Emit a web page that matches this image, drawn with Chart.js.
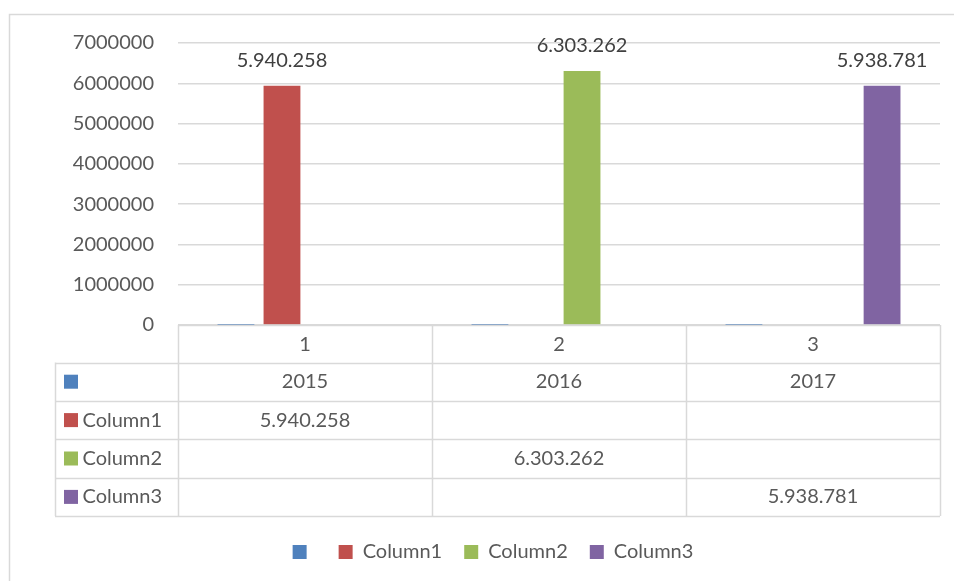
<!DOCTYPE html>
<html><head><meta charset="utf-8">
<script src="https://cdn.jsdelivr.net/npm/chart.js@4/dist/chart.umd.min.js"></script>
<style>html,body{margin:0;padding:0;background:#fff}canvas{display:block}</style>
</head><body>
<canvas id="c" width="954" height="581"></canvas>
<script>
// ---- data ----
const categories = ['1', '2', '3'];
const seriesNames = ['', 'Column1', 'Column2', 'Column3'];
const yearValues = [2015, 2016, 2017];
const column1 = [5940258, null, null];
const column2 = [null, 6303262, null];
const column3 = [null, null, 5938781];
const yMin = 0, yMax = 7000000, yStep = 1000000;

// ---- styles ----
const colors = ['#4F81BD', '#C0504D', '#9BBB59', '#8064A2'];
const FONT = 'Lato, "Open Sans", sans-serif';
const TEXT = '#595959';
const LINE = '#D9D9D9';

function fmtDots(v) { return String(Math.round(v)).replace(/\B(?=(\d{3})+(?!\d))/g, '.'); }

const seriesData = [yearValues, column1, column2, column3];

const framePlugin = {
  id: 'frame',
  beforeDraw(chart) {
    const ctx = chart.ctx;
    ctx.save();
    ctx.fillStyle = '#fff';
    ctx.fillRect(0, 0, chart.width, chart.height);
    ctx.strokeStyle = LINE;
    ctx.lineWidth = 1.5;
    ctx.beginPath();
    ctx.moveTo(9.5, chart.height);
    ctx.lineTo(9.5, 14.5);
    ctx.lineTo(chart.width, 14.5);
    ctx.stroke();
    ctx.restore();
  }
};

const labelPlugin = {
  id: 'valueLabels',
  afterDatasetsDraw(chart) {
    const ctx = chart.ctx;
    ctx.save();
    ctx.font = '20px ' + FONT;
    ctx.fillStyle = '#404040';
    ctx.textAlign = 'center';
    ctx.textBaseline = 'middle';
    for (let d = 1; d < chart.data.datasets.length; d++) {
      const meta = chart.getDatasetMeta(d);
      chart.data.datasets[d].data.forEach((v, i) => {
        if (v === null || v === undefined) return;
        const el = meta.data[i];
        ctx.fillText(fmtDots(v), el.x, el.y - 25.5);
      });
    }
    ctx.restore();
  }
};

const tablePlugin = {
  id: 'dataTable',
  afterDraw(chart) {
    const ctx = chart.ctx;
    const xs = chart.scales.x;
    const ca = chart.chartArea;
    const n = categories.length;
    const half = (xs.getPixelForValue(1) - xs.getPixelForValue(0)) / 2;
    const bounds = [];
    for (let i = 0; i < n; i++) bounds.push(xs.getPixelForValue(i) - half);
    bounds.push(xs.getPixelForValue(n - 1) + half);
    const tableLeft = 55;
    const headTop = ca.bottom;
    const headH = 37.5, rowH = 38.4;
    const rowTops = [];
    for (let r = 0; r <= seriesNames.length; r++) rowTops.push(headTop + headH + r * rowH);
    const bottom = rowTops[rowTops.length - 1];
    const px = v => Math.round(v) + 0.5;

    ctx.save();
    ctx.strokeStyle = LINE;
    ctx.lineWidth = 1.5;
    ctx.beginPath();
    ctx.moveTo(bounds[0], px(headTop)); ctx.lineTo(bounds[n], px(headTop));
    rowTops.forEach(y => { ctx.moveTo(tableLeft, px(y)); ctx.lineTo(bounds[n], px(y)); });
    bounds.forEach(x => { ctx.moveTo(px(x), headTop); ctx.lineTo(px(x), bottom); });
    ctx.moveTo(px(tableLeft), rowTops[0]); ctx.lineTo(px(tableLeft), bottom);
    ctx.stroke();

    ctx.font = '20px ' + FONT;
    ctx.textBaseline = 'middle';
    seriesNames.forEach((name, r) => {
      const cy = rowTops[r] + rowH / 2;
      ctx.fillStyle = colors[r];
      ctx.fillRect(64, cy - 7, 14, 14);
      ctx.fillStyle = TEXT;
      ctx.textAlign = 'left';
      ctx.fillText(name, 82.5, cy);
      ctx.textAlign = 'center';
      seriesData[r].forEach((v, i) => {
        if (v === null || v === undefined) return;
        const txt = r === 0 ? String(v) : fmtDots(v);
        ctx.fillText(txt, xs.getPixelForValue(i), cy);
      });
    });
    ctx.restore();
  }
};

new Chart(document.getElementById('c'), {
  type: 'bar',
  data: {
    labels: categories,
    datasets: seriesNames.map((name, i) => ({
      label: name,
      data: seriesData[i],
      backgroundColor: colors[i],
      borderWidth: 0,
      inflateAmount: 0,
      categoryPercentage: 0.725,
      barPercentage: 0.8
    }))
  },
  options: {
    responsive: false,
    animation: false,
    devicePixelRatio: 1,
    layout: { padding: { left: 46, right: 14, top: 43, bottom: 9 } },
    plugins: {
      tooltip: { enabled: false },
      legend: {
        position: 'bottom',
        labels: {
          boxWidth: 14, boxHeight: 14, padding: 22,
          color: TEXT,
          font: { family: FONT, size: 20 }
        }
      }
    },
    scales: {
      x: {
        grid: { display: false, drawTicks: false },
        border: { display: false },
        ticks: { color: TEXT, font: { family: FONT, size: 20 }, padding: 8, maxRotation: 0 },
        afterFit(s) { s.height = 195; }
      },
      y: {
        min: yMin, max: yMax,
        grid: { color: LINE, lineWidth: 1.5, drawTicks: false },
        border: { display: false },
        ticks: {
          stepSize: yStep, color: TEXT, font: { family: FONT, size: 20 }, padding: 24,
          callback: v => String(v)
        },
        afterFit(s) { s.width = 132; }
      }
    }
  },
  plugins: [framePlugin, labelPlugin, tablePlugin]
});
</script>
</body></html>
